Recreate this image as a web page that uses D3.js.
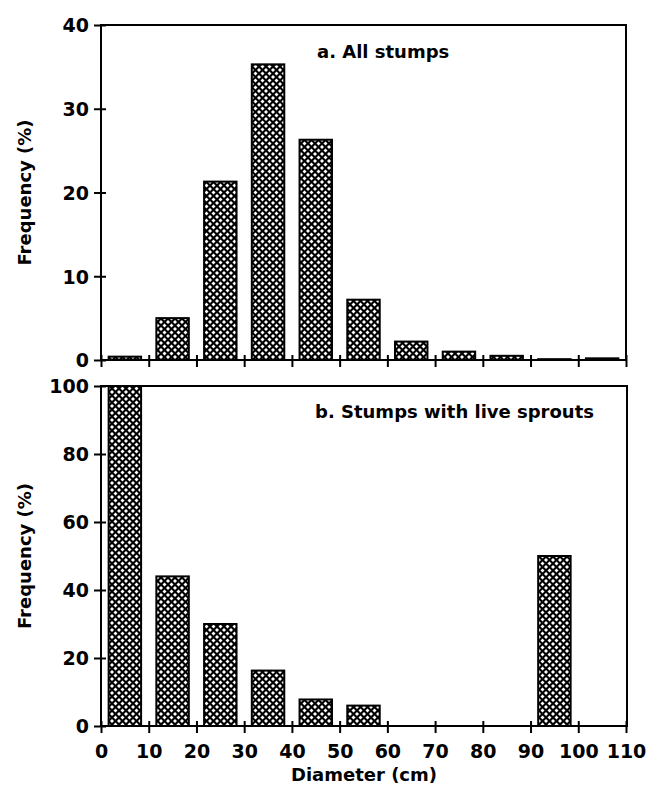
<!DOCTYPE html>
<html><head><meta charset="utf-8">
<script src="https://cdn.jsdelivr.net/npm/d3@7"></script>
<style>body{margin:0;background:#fff}svg{display:block}text{font-family:"DejaVu Sans",sans-serif;font-weight:bold;fill:#000}</style>
</head><body>
<script>
const binStarts = [0,10,20,30,40,50,60,70,80,90,100];
const allStumps = [0.4,5.0,21.3,35.3,26.3,7.2,2.2,1.0,0.5,0.1,0.2];
const liveSprouts = [100,44,30,16.3,7.8,6.0,0,0,0,50,0];
const xTicks = [0,10,20,30,40,50,60,70,80,90,100,110];
const yTicksA = [0,10,20,30,40];
const yTicksB = [0,20,40,60,80,100];
const titleA = "a. All stumps";
const titleB = "b. Stumps with live sprouts";
const yLabel = "Frequency (%)";
const xLabel = "Diameter (cm)";

const W=649,H=791;
const svg=d3.select("body").append("svg").attr("width",W).attr("height",H);
const defs=svg.append("defs");
const pat=defs.append("pattern").attr("id","hatch").attr("patternUnits","userSpaceOnUse")
  .attr("width",7).attr("height",7);
pat.append("rect").attr("width",7).attr("height",7).attr("fill","#000");
const dia=(cx,cy,r)=>`M${cx},${cy-r}L${cx+r},${cy}L${cx},${cy+r}L${cx-r},${cy}Z`;
const R=2.0;
pat.append("path").attr("d",[dia(3.5,3.5,R),dia(0,0,R),dia(7,0,R),dia(0,7,R),dia(7,7,R)].join("")).attr("fill","#fff");

const x=d3.scaleLinear().domain([0,110]).range([101,626]);

function panel(vals,yTicks,ymax,top,bottom,right,title,tx,ty,showX){
  const y=d3.scaleLinear().domain([0,ymax]).range([bottom,top]);
  const g=svg.append("g");
  g.selectAll("rect.bar").data(binStarts.map((b,i)=>({b,v:vals[i]})).filter(d=>d.v>0)).enter()
    .append("rect").attr("class","bar")
    .attr("x",d=>x(d.b+1.6)).attr("width",d=>x(d.b+8.4)-x(d.b+1.6))
    .attr("y",d=>y(d.v)).attr("height",d=>Math.max(0,y(0)-y(d.v)))
    .attr("fill","url(#hatch)").attr("stroke","#000").attr("stroke-width",2);
  g.append("path").attr("d",`M${x(0)},${bottom}V${top}H${right}V${bottom}Z`)
    .attr("fill","none").attr("stroke","#000").attr("stroke-width",2);
  const ya=d3.axisLeft(y).tickValues(yTicks).tickSizeInner(7).tickSizeOuter(0).tickPadding(5).tickFormat(d3.format("d"));
  const yg=g.append("g").attr("transform",`translate(${x(0)},0)`).call(ya);
  yg.select(".domain").remove();
  yg.selectAll("line").attr("stroke-width",2).attr("x2",-7).attr("x1",5);
  yg.selectAll("text").style("font-size","19px").attr("dy","0.36em");
  const xa=d3.axisBottom(x).tickValues(xTicks).tickSizeInner(6).tickSizeOuter(0).tickPadding(13).tickFormat(showX?d3.format("d"):"");
  const xg=g.append("g").attr("transform",`translate(0,${bottom})`).call(xa);
  xg.select(".domain").remove();
  xg.selectAll("line").attr("stroke-width",2).attr("y1",-5).attr("y2",7);
  xg.selectAll("text").style("font-size","19px");
  g.append("text").attr("x",tx).attr("y",ty).style("font-size","18px").text(title);
  g.append("text").attr("transform",`translate(31,${(top+bottom)/2}) rotate(-90)`)
    .attr("text-anchor","middle").style("font-size","18px").text(yLabel);
}
panel(allStumps,yTicksA,40,25,360,626,titleA,317,58,false);
panel(liveSprouts,yTicksB,100,386,726,627,titleB,315,418,true);
svg.append("text").attr("x",364).attr("y",781).attr("text-anchor","middle").style("font-size","18px").text(xLabel);
</script>
</body></html>
